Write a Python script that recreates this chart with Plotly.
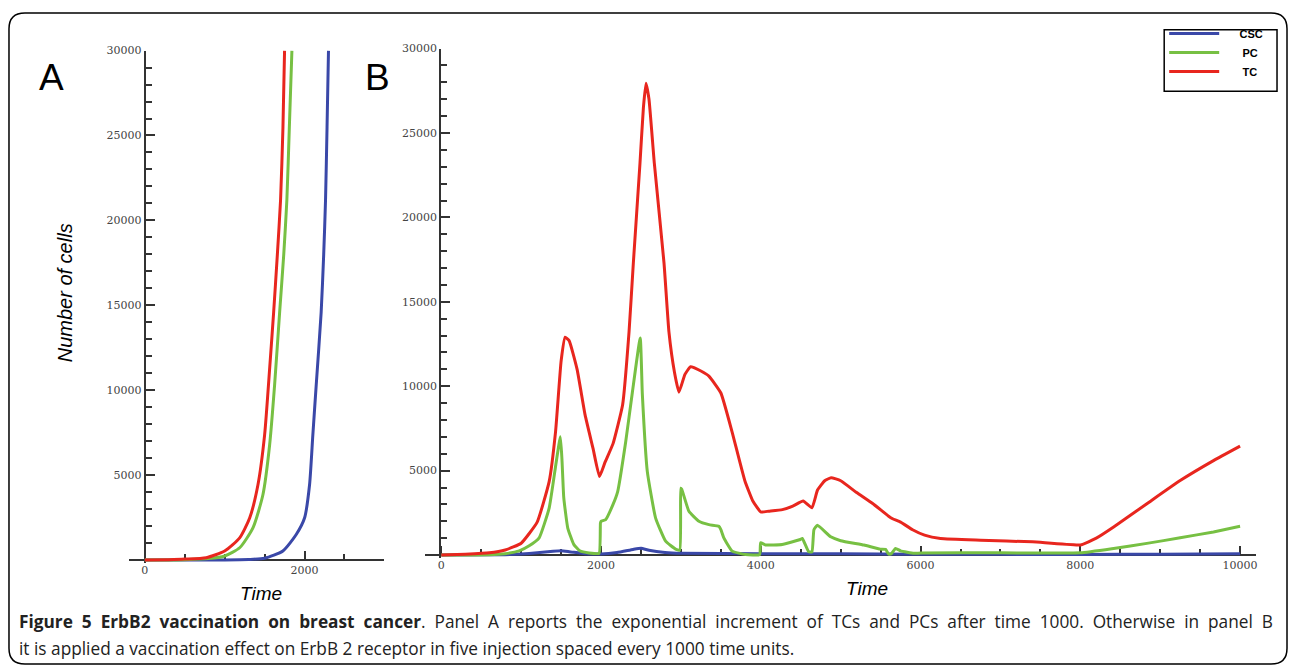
import plotly.graph_objects as go

W, H = 1292, 670

# ---------------- Panel A data ----------------
a_tc_t = [0, 300, 500, 770, 1000, 1188, 1313, 1417, 1500, 1563, 1613, 1660, 1700, 1730, 1750]
a_tc_v = [0, 20, 50, 135, 530, 1300, 2470, 4430, 7350, 11250, 14570, 18000, 21200, 25500, 30000]

a_pc_t = [0, 500, 800, 1000, 1188, 1354, 1479, 1563, 1625, 1688, 1740, 1779, 1810, 1842]
a_pc_v = [0, 20, 80, 235, 720, 1890, 3840, 6770, 10280, 14570, 18000, 21200, 25500, 30000]

a_csc_t = [0, 1000, 1300, 1500, 1729, 1896, 2000, 2063, 2104, 2146, 2208, 2240, 2263, 2282, 2300]
a_csc_v = [0, 5, 30, 100, 530, 1500, 2470, 4430, 7350, 10280, 14570, 18000, 21200, 25500, 30000]

# ---------------- Panel B data ----------------
b_tc_t = [0, 300, 600, 800, 1000, 1200, 1350, 1430, 1500, 1550, 1600, 1700, 1800, 1900, 1980,
          2050, 2150, 2270, 2350, 2404, 2487, 2530, 2562, 2600, 2667, 2788, 2850, 2920, 2975,
          3050, 3120, 3250, 3350, 3500, 3640, 3800, 3900, 4000, 4100, 4270, 4400, 4530, 4640,
          4710, 4800, 4880, 5000, 5200, 5400, 5600, 5650, 5750, 5900, 6050, 6250, 6750, 7400,
          8000, 8200, 8417, 8833, 9250, 9667, 10000]
b_tc_v = [0, 50, 130, 300, 700, 1950, 4350, 7300, 11500, 12900, 12700, 11000, 8300, 6300, 4650,
          5500, 6600, 8900, 13200, 17300, 23200, 26500, 27950, 27000, 23200, 17300, 13200, 10800, 9650,
          10700, 11150, 10900, 10600, 9600, 7300, 4400, 3200, 2550, 2600, 2690, 2900, 3200, 2800,
          3850, 4400, 4580, 4400, 3700, 3050, 2300, 2150, 1950, 1500, 1180, 980, 880, 780,
          600, 1000, 1660, 3040, 4410, 5590, 6450]

b_pc_t = [0, 600, 800, 975, 1100, 1225, 1350, 1433, 1490, 1510, 1533, 1583, 1658, 1733, 1850,
          1975, 1992, 2000, 2058, 2150, 2208, 2308, 2392, 2490, 2517, 2579, 2683, 2808, 2933,
          2985, 2998, 3010, 3100, 3225, 3350, 3475, 3500, 3537, 3642, 3808, 3985, 3998, 4058,
          4267, 4496, 4520, 4600, 4640, 4665, 4708, 4875, 5000, 5292, 5496, 5562, 5600, 5630,
          5687, 5750, 5917, 6000, 7000, 8000, 8417, 8833, 9250, 9667, 10000]
b_pc_v = [0, 20, 80, 250, 550, 1020, 2780, 5340, 7000, 5700, 3400, 1600, 630, 250, 120,
          100, 1900, 2000, 2100, 3000, 3760, 6700, 9640, 12850, 9500, 4940, 2190, 820, 350,
          300, 3960, 3900, 2590, 2000, 1800, 1700, 1500, 1020, 230, 30, 30, 730, 600,
          630, 920, 980, 190, 190, 1500, 1760, 1080, 850, 590, 350, 335, 60, 60,
          390, 250, 100, 120, 130, 130, 390, 690, 1020, 1370, 1700]

b_csc_t = [0, 800, 1000, 1200, 1400, 1500, 1600, 1800, 2000, 2200, 2400, 2500, 2600, 2800, 3000,
           4000, 5000, 6000, 7000, 8000, 9000, 10000]
b_csc_v = [0, 20, 60, 130, 220, 250, 200, 80, 60, 150, 330, 400, 280, 150, 100,
           80, 70, 50, 40, 30, 50, 80]

# tick labels
y_tick_vals = [5000, 10000, 15000, 20000, 25000, 30000]
y_tick_text = ["5000", "10000", "15000", "20000", "25000", "30000"]
a_x_tick_vals = [0, 2000]
a_x_tick_text = ["0", "2000"]
b_x_tick_vals = [0, 2000, 4000, 6000, 8000, 10000]
b_x_tick_text = ["0", "2000", "4000", "6000", "8000", "10000"]

series_names = ["CSC", "PC", "TC"]
legend_labels = {"CSC": "\u00a0" * 5 + "CSC" + "\u00a0" * 2,
                 "PC": "\u00a0" * 6 + "PC",
                 "TC": "\u00a0" * 6 + "TC"}
colors = {"CSC": "#3a48a8", "PC": "#77c043", "TC": "#e8261e"}


def px_x(p):
    return p / W


def px_y(p):
    return 1 - p / H


fig = go.Figure()

a_data = {"CSC": (a_csc_t, a_csc_v), "PC": (a_pc_t, a_pc_v), "TC": (a_tc_t, a_tc_v)}
b_data = {"CSC": (b_csc_t, b_csc_v), "PC": (b_pc_t, b_pc_v), "TC": (b_tc_t, b_tc_v)}

for name in series_names:
    t, v = a_data[name]
    fig.add_trace(go.Scatter(x=t, y=v, mode="lines", name=legend_labels[name], showlegend=False,
                             line=dict(color=colors[name], width=3, shape="spline", smoothing=0.6),
                             xaxis="x", yaxis="y", hoverinfo="skip"))
for i, name in enumerate(series_names):
    t, v = b_data[name]
    fig.add_trace(go.Scatter(x=t, y=v, mode="lines", name=legend_labels[name], showlegend=True,
                             line=dict(color=colors[name], width=3, shape="spline", smoothing=0.4),
                             xaxis="x2", yaxis="y2", hoverinfo="skip", legendrank=i + 1))

tick_font = dict(family="DejaVu Serif", size=11, color="#444444")
axis_common = dict(showline=True, linecolor="#333333", linewidth=2, showgrid=False, zeroline=False,
                   ticks="inside", tickcolor="#333333", tickwidth=1.5, tickfont=tick_font,
                   fixedrange=True, layer="below traces")

fig.update_layout(
    width=W, height=H,
    margin=dict(l=0, r=0, t=0, b=0),
    paper_bgcolor="white", plot_bgcolor="rgba(0,0,0,0)",
    xaxis=dict(domain=[px_x(129), px_x(385)], range=[-200, 3000], anchor="free", position=px_y(559),
               tickvals=a_x_tick_vals, ticktext=a_x_tick_text, ticklen=8,
               minor=dict(ticks="inside", dtick=500, tick0=0, ticklen=5, tickcolor="#333333", tickwidth=1.5),
               **axis_common),
    yaxis=dict(domain=[px_y(562.4), px_y(45)], range=[-200, 30000], anchor="free", position=px_x(145),
               side="left", tickvals=y_tick_vals, ticktext=y_tick_text, ticklen=9,
               minor=dict(ticks="inside", dtick=1000, tick0=0, ticklen=6, tickcolor="#333333", tickwidth=1.5),
               **axis_common),
    xaxis2=dict(domain=[px_x(426), px_x(1258)], range=[-200, 10200], anchor="free", position=px_y(554),
                tickvals=b_x_tick_vals, ticktext=b_x_tick_text, ticklen=8,
                minor=dict(ticks="inside", dtick=500, tick0=0, ticklen=5, tickcolor="#333333", tickwidth=1.5),
                **axis_common),
    yaxis2=dict(domain=[px_y(557.4), px_y(43)], range=[-200, 30000], anchor="free", position=px_x(441),
                side="left", tickvals=y_tick_vals, ticktext=y_tick_text, ticklen=9,
                minor=dict(ticks="inside", dtick=1000, tick0=0, ticklen=6, tickcolor="#333333", tickwidth=1.5),
                **axis_common),
    legend=dict(x=px_x(1166), y=px_y(13), xanchor="left", yanchor="top",
                bgcolor="rgba(0,0,0,0)", borderwidth=0,
                font=dict(family="Liberation Sans", size=11, color="black", weight="bold"),
                itemwidth=50, tracegroupgap=0),
    showlegend=True,
)

# legend frame
fig.add_shape(type="rect", xref="paper", yref="paper",
              x0=px_x(1166), x1=px_x(1279), y0=px_y(86), y1=px_y(24),
              line=dict(color="black", width=1.5), fillcolor="rgba(0,0,0,0)", layer="below")

# rounded outer frame
r = 16
x0, x1, y0, y1 = 9, 1289, 7, 664
rx, ry = r / W, r / H
X0, X1, Y0, Y1 = px_x(x0), px_x(x1), px_y(y0), px_y(y1)
path = (f"M{X0 + rx},{Y0} L{X1 - rx},{Y0} Q{X1},{Y0} {X1},{Y0 - ry} "
        f"L{X1},{Y1 + ry} Q{X1},{Y1} {X1 - rx},{Y1} L{X0 + rx},{Y1} Q{X0},{Y1} {X0},{Y1 + ry} "
        f"L{X0},{Y0 - ry} Q{X0},{Y0} {X0 + rx},{Y0} Z")
fig.add_shape(type="path", path=path, xref="paper", yref="paper",
              line=dict(color="black", width=1.5), fillcolor="rgba(0,0,0,0)")

anns = []
anns.append(dict(text="A", x=px_x(52), y=px_y(72), xref="paper", yref="paper", showarrow=False,
                 xanchor="center", yanchor="middle",
                 font=dict(family="Liberation Sans", size=37, color="black")))
anns.append(dict(text="B", x=px_x(378), y=px_y(72), xref="paper", yref="paper", showarrow=False,
                 xanchor="center", yanchor="middle",
                 font=dict(family="Liberation Sans", size=37, color="black")))
anns.append(dict(text="<i>Number of cells</i>", x=px_x(66), y=px_y(289), xref="paper", yref="paper",
                 showarrow=False, textangle=-90, xanchor="center", yanchor="middle",
                 font=dict(family="Liberation Sans", size=20, color="black")))
anns.append(dict(text="<i>Time</i>", x=px_x(261), y=px_y(593), xref="paper", yref="paper",
                 showarrow=False, xanchor="center", yanchor="middle",
                 font=dict(family="Liberation Sans", size=19, color="black")))
anns.append(dict(text="<i>Time</i>", x=px_x(868), y=px_y(588), xref="paper", yref="paper",
                 showarrow=False, xanchor="center", yanchor="middle",
                 font=dict(family="Liberation Sans", size=19, color="black")))

sp = " \u00a0"
line1_bold = "Figure 5 ErbB2 vaccination on breast cancer".replace(" ", sp)
line1_rest = (". Panel A reports the exponential increment of TCs and PCs after time 1000. "
              "Otherwise in panel B").replace(" ", sp)
line2 = "it is applied a vaccination effect on ErbB 2 receptor in five injection spaced every 1000 time units."
cap_font = dict(family="Open Sans", size=17.25, color="#222222")
anns.append(dict(text=f"<b>{line1_bold}</b>{line1_rest}", x=px_x(17), y=px_y(621), xref="paper",
                 yref="paper", showarrow=False, xanchor="left", yanchor="middle", font=cap_font))
anns.append(dict(text=line2, x=px_x(17), y=px_y(648), xref="paper", yref="paper", showarrow=False,
                 xanchor="left", yanchor="middle", font=cap_font))
fig.update_layout(annotations=anns)

fig.write_html("out.html",
               config={"displayModeBar": False},
               post_script="document.body.style.margin='0';"
                           "document.documentElement.style.overflow='hidden';")
